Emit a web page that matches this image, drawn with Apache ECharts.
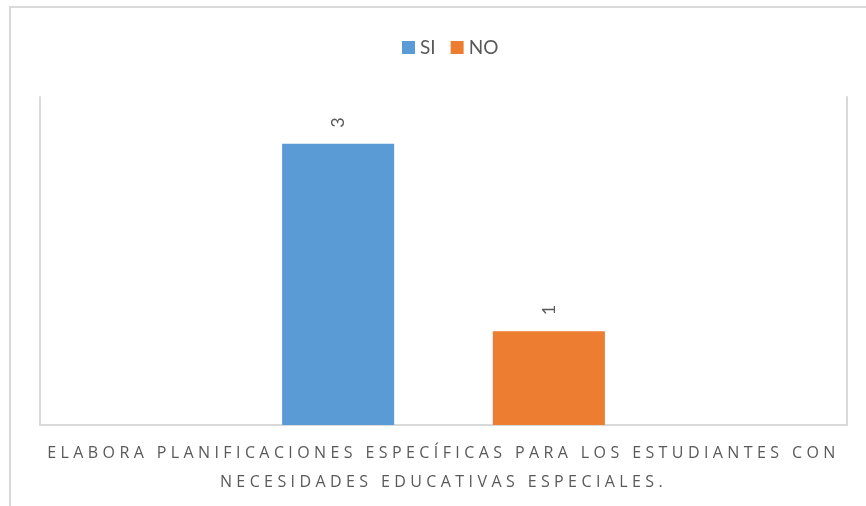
<!DOCTYPE html>
<html>
<head>
<meta charset="utf-8">
<script src="https://cdn.jsdelivr.net/npm/echarts@6/dist/echarts.min.js"></script>
<style>
    html, body { margin: 0; padding: 0; background: #fff; }
    #barEcharts { width: 866px; height: 506px; }
</style>
</head>
<body>
<div id="barEcharts"></div>
<script>
var categories = ['ELABORA PLANIFICACIONES ESPECÍFICAS PARA LOS ESTUDIANTES CON\nNECESIDADES EDUCATIVAS ESPECIALES.'];
var seriesNames = ['SI', 'NO'];
var siValues = [3];
var noValues = [1];

// the axis label in the picture is letter-spaced, echarts has no option for it
var origFill = CanvasRenderingContext2D.prototype.fillText;
CanvasRenderingContext2D.prototype.fillText = function (t, x, y, w) {
    this.letterSpacing = this.font.indexOf('16px') >= 0 ? '4.4px' : '0px';
    return w === undefined ? origFill.call(this, t, x, y) : origFill.call(this, t, x, y, w);
};

var myChart = echarts.init(document.getElementById('barEcharts'));
var labelStyle = {
    show: true,
    position: 'top',
    rotate: 90,
    align: 'left',
    verticalAlign: 'middle',
    distance: 16,
    color: '#595959',
    fontFamily: 'Lato',
    fontSize: 18
};
var option = {
    animation: false,
    legend: {
        top: 33,
        left: 397,
        icon: 'rect',
        itemWidth: 13,
        itemHeight: 13,
        itemGap: 15,
        data: seriesNames,
        textStyle: { color: '#595959', fontFamily: 'Lato', fontSize: 19 }
    },
    grid: { left: 40, right: 19, top: 97, bottom: 81 },
    xAxis: {
        type: 'category',
        data: categories,
        axisLine: { lineStyle: { color: '#d9d9d9', width: 2 } },
        axisTick: { show: false },
        axisLabel: {
            color: '#595959',
            fontFamily: 'Open Sans',
            fontSize: 16,
            lineHeight: 29,
            margin: 14
        }
    },
    yAxis: [{
        type: 'value',
        min: 0,
        max: 3.5,
        axisLine: { show: true, lineStyle: { color: '#d9d9d9', width: 2 } },
        axisLabel: { show: false },
        axisTick: { show: false },
        splitLine: { show: false }
    }, {
        type: 'value',
        position: 'right',
        min: 0,
        max: 3.5,
        axisLine: { show: true, lineStyle: { color: '#d9d9d9', width: 2 } },
        axisLabel: { show: false },
        axisTick: { show: false },
        splitLine: { show: false }
    }],
    graphic: [{
        type: 'rect',
        shape: { x: 10, y: 7, width: 1000, height: 600 },
        style: { fill: 'none', stroke: '#d9d9d9', lineWidth: 2 }
    }],
    series: [{
        name: seriesNames[0],
        type: 'bar',
        data: siValues,
        barCategoryGap: '60%',
        barGap: '88%',
        itemStyle: { color: '#5b9bd5' },
        label: labelStyle
    }, {
        name: seriesNames[1],
        type: 'bar',
        data: noValues,
        barCategoryGap: '60%',
        barGap: '88%',
        itemStyle: { color: '#ed7d31' },
        label: labelStyle
    }]
};
myChart.setOption(option);
</script>
</body>
</html>
